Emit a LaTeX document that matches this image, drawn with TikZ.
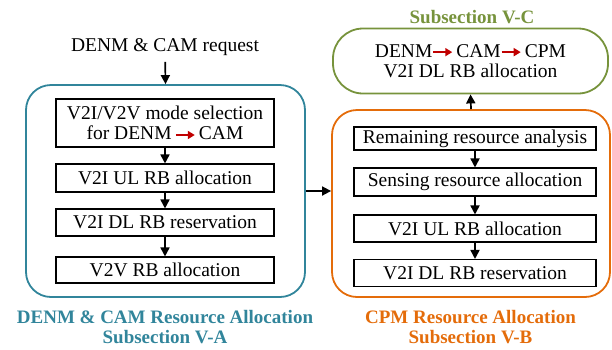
\documentclass[tikz,border=0pt]{standalone}
\usepackage{fontspec}
\setmainfont{Liberation Serif}
\usetikzlibrary{arrows.meta}

\definecolor{tealc}{RGB}{49,133,155}
\definecolor{orangec}{RGB}{228,108,10}
\definecolor{greenc}{RGB}{119,147,60}
\definecolor{redc}{RGB}{192,0,0}

% small red arrow used inside the box texts
\newcommand{\redarrow}{\tikz[baseline=-0.55ex]\draw[redc,line width=1.8pt,-{Triangle[length=7pt,width=8pt]}] (0,0) -- (19pt,0);}

\tikzset{
  txt/.style={inner sep=2pt, font=\fontsize{19.5}{20.5}\selectfont, align=center},
  box/.style={txt, draw, line width=1.1pt, inner sep=0pt},
  panel/.style={draw, line width=1.8pt, rounded corners=25pt},
  lbl/.style={txt, font=\fontsize{19}{20}\selectfont\bfseries},
  flow/.style={line width=1.7pt, -{Triangle[length=9pt,width=9pt]}},
}

\begin{document}
\begin{tikzpicture}[x=1pt,y=-1pt]
\useasboundingbox (0,0) rectangle (612,349);

% Subsection V-A
\node[txt] (req) at (165,47) {DENM \& CAM request};
\node[panel, draw=tealc, minimum width=279pt, minimum height=212pt] (pa) at (165.5,191) {};
\node[box, minimum width=218pt, minimum height=48pt] (a1) at (165,123) {V2I/V2V mode selection\\for DENM\,\redarrow\,CAM};
\node[box, minimum width=218pt, minimum height=28pt] (a2) at (165,178) {V2I UL RB allocation};
\node[box, minimum width=218pt, minimum height=27pt] (a3) at (165,222.5) {V2I DL RB reservation};
\node[box, minimum width=218pt, minimum height=26pt] (a4) at (165,270) {V2V RB allocation};
\node[lbl, text=tealc] (la) at (165,327) {DENM \& CAM Resource Allocation\\Subsection V-A};

% Subsection V-B
\node[panel, draw=orangec, minimum width=278pt, minimum height=187pt] (pb) at (471,203.5) {};
\node[box, minimum width=242pt, minimum height=23pt] (b1) at (475,138.5) {Remaining resource analysis};
\node[box, minimum width=242pt, minimum height=28pt] (b2) at (475,182) {Sensing resource allocation};
\node[box, minimum width=242pt, minimum height=27pt] (b3) at (475,228.5) {V2I UL RB allocation};
\node[box, minimum width=242pt, minimum height=27pt] (b4) at (475,273) {V2I DL RB reservation};
\node[lbl, text=orangec] (lb) at (470.5,327) {CPM Resource Allocation\\Subsection V-B};

% Subsection V-C
\node[panel, draw=greenc, rounded corners=30pt, minimum width=275pt, minimum height=65pt, txt] (pc) at (470.5,61) {DENM\redarrow\,CAM\redarrow\,CPM\\V2I DL RB allocation};
\node[lbl, text=greenc] (lc) at (472,17) {Subsection V-C};

% arrows
\draw[flow, shorten <=4pt] (req) -- (pa.north);
\draw[flow] (a1) -- (a2);
\draw[flow] (a2) -- (a3);
\draw[flow] (a3) -- (a4);
\draw[flow] (b1) -- (b2);
\draw[flow] (b2) -- (b3);
\draw[flow] (b3) -- (b4);
\draw[flow] (pa.east) -- (pb.west |- pa.east);
\draw[flow] (pb.north) -- (pc.south);

\end{tikzpicture}
\end{document}
